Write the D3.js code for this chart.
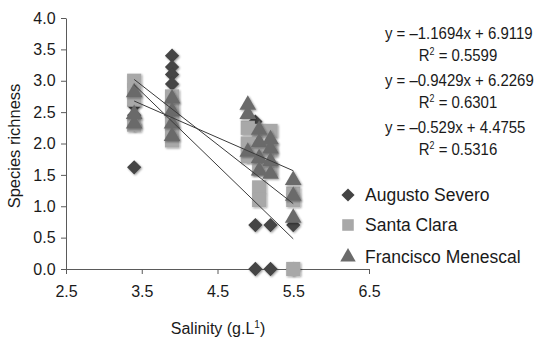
<!DOCTYPE html>
<html><head><meta charset="utf-8">
<script src="https://cdn.jsdelivr.net/npm/d3@7"></script>
<style>
body{margin:0;background:#fff;}
text{font-family:"Liberation Sans",Arial,sans-serif;fill:#1a1a1a;}
</style></head><body>
<svg id="c" width="535" height="339"></svg>
<script>
// ---- data ----
const seriesNames = ["Augusto Severo", "Santa Clara", "Francisco Menescal"];
const xTicks = [2.5, 3.5, 4.5, 5.5, 6.5];
const yTicks = [0, 0.5, 1, 1.5, 2, 2.5, 3, 3.5, 4];
const augustoSevero = [[3.4,1.62],[3.4,2.3],[3.4,2.45],[3.4,2.6],
  [3.9,3.4],[3.9,3.22],[3.9,3.1],[3.9,2.95],
  [4.9,1.8],[5.0,2.35],[5.0,1.75],[5.0,0.7],[5.2,0.7],[5.0,0],[5.2,0],[5.5,0.7],[5.5,0]];
const santaClara = [[3.4,3.0],[3.4,2.85],[3.4,2.7],[3.4,2.3],
  [3.9,2.75],[3.9,2.6],[3.9,2.45],[3.9,2.3],[3.9,2.15],[3.9,2.05],
  [4.9,2.25],[4.9,2.0],[4.9,1.8],
  [5.05,2.2],[5.05,1.9],[5.05,1.6],[5.05,1.3],[5.05,1.1],
  [5.2,2.2],[5.2,1.9],[5.2,1.6],
  [5.5,1.2],[5.5,1.1],[5.5,0]];
const franciscoMenescal = [[3.4,2.8],[3.4,2.45],[3.4,2.3],
  [3.9,2.7],[3.9,2.5],[3.9,2.3],[3.9,2.1],
  [4.9,2.6],[4.9,2.45],[4.9,1.85],
  [5.05,2.2],[5.05,2.0],[5.05,1.75],[5.05,1.55],
  [5.2,2.05],[5.2,1.9],[5.2,1.7],[5.2,1.5],
  [5.5,1.4],[5.5,1.15],[5.5,0.8]];
const trendSlopes = [-1.1694, -0.9429, -0.529];
const trendIntercepts = [6.9119, 6.2269, 4.4755];
const trendRange = [3.4, 5.5];
const equationLabels = ["y = \u20131.1694x + 6.9119", "y = \u20130.9429x + 6.2269", "y = \u20130.529x + 4.4755"];
const r2Labels = ["0.5599", "0.6301", "0.5316"];

// ---- chart ----
const svg = d3.select("#c");
const x = d3.scaleLinear().domain([2.5, 6.5]).range([66, 369]);
const y = d3.scaleLinear().domain([0, 4]).range([269, 18]);
const axisColor = "#5a5a5a";

const defs = svg.append("defs");
const f = defs.append("filter").attr("id","sh").attr("x","-50%").attr("y","-50%").attr("width","200%").attr("height","200%");
f.append("feGaussianBlur").attr("in","SourceAlpha").attr("stdDeviation",1.2).attr("result","b");
f.append("feOffset").attr("in","b").attr("dx",0.5).attr("dy",1).attr("result","o");
f.append("feComponentTransfer").attr("in","o").attr("result","o2").append("feFuncA").attr("type","linear").attr("slope",0.4);
const m = f.append("feMerge"); m.append("feMergeNode").attr("in","o2"); m.append("feMergeNode").attr("in","SourceGraphic");

const xAxis = svg.append("g").attr("transform","translate(0,269)")
  .call(d3.axisBottom(x).tickValues(xTicks).tickFormat(d3.format(".1f")).tickSize(5).tickSizeOuter(0));
const yAxis = svg.append("g").attr("transform","translate(66,0)")
  .call(d3.axisLeft(y).tickValues(yTicks).tickFormat(d3.format(".1f")).tickSize(5).tickSizeOuter(0));
[xAxis, yAxis].forEach(a => {
  a.selectAll("path,line").attr("stroke", axisColor).attr("stroke-width",1);
  a.selectAll("text").style("font-size","16px").attr("fill","#1a1a1a");
});
xAxis.selectAll("text").attr("dy","1.25em");
yAxis.selectAll("text").attr("dx","-0.15em");

const shapes = [d3.symbolDiamond2, d3.symbolSquare2, d3.symbolTriangle2];
const fills = ["#444444", "#a8a8a8", "#6b6b6b"];
const sizes = [130, 256, 200];
const allData = [augustoSevero, santaClara, franciscoMenescal];
const yOff = [0, 0, -1];

allData.forEach((data, i) => {
  const sym = d3.symbol().type(shapes[i]).size(sizes[i]);
  svg.append("g").attr("filter","url(#sh)").selectAll("path").data(data).join("path")
    .attr("d", sym)
    .attr("transform", d => `translate(${x(d[0])},${y(d[1]) + yOff[i]})`)
    .attr("fill", fills[i]);
});

trendSlopes.forEach((s, i) => {
  svg.append("line")
    .attr("x1", x(trendRange[0])).attr("y1", y(s*trendRange[0] + trendIntercepts[i]))
    .attr("x2", x(trendRange[1])).attr("y2", y(s*trendRange[1] + trendIntercepts[i]))
    .attr("stroke", "#3a3a3a").attr("stroke-width", 1);
});

// equations (slightly condensed, like the original narrow face)
const eqY = [33, 80, 127];
equationLabels.forEach((t, i) => {
  svg.append("text").attr("transform", `translate(385,${eqY[i] + 6}) scale(0.89,1)`)
    .style("font-size","16.8px").text(t);
  const r = svg.append("text").attr("transform", `translate(458,${eqY[i] + 28}) scale(0.89,1)`)
    .attr("text-anchor","middle").style("font-size","16.8px");
  r.append("tspan").text("R");
  r.append("tspan").attr("dy",-6.5).style("font-size","10px").text("2");
  r.append("tspan").attr("dy",6.5).text(" = " + r2Labels[i]);
});

// legend
const legY = [195, 225, 257];
seriesNames.forEach((n, i) => {
  const symL = d3.symbol().type(shapes[i]).size([110, 170, 170][i]);
  svg.append("path").attr("d", symL).attr("transform", `translate(348,${legY[i]})`).attr("fill", fills[i]);
  svg.append("text").attr("x", 365).attr("y", legY[i] + 6).style("font-size","17.5px").text(n);
});

// axis titles
svg.append("text").attr("transform","translate(20,146) rotate(-90)").attr("text-anchor","middle")
  .style("font-size","16.5px").text("Species richness");
const xt = svg.append("text").attr("x", 218).attr("y", 334).attr("text-anchor","middle").style("font-size","16px");
xt.append("tspan").text("Salinity (g.L");
xt.append("tspan").attr("dy",-6).style("font-size","10px").text("1");
xt.append("tspan").attr("dy",6).text(")");
</script>
</body></html>
